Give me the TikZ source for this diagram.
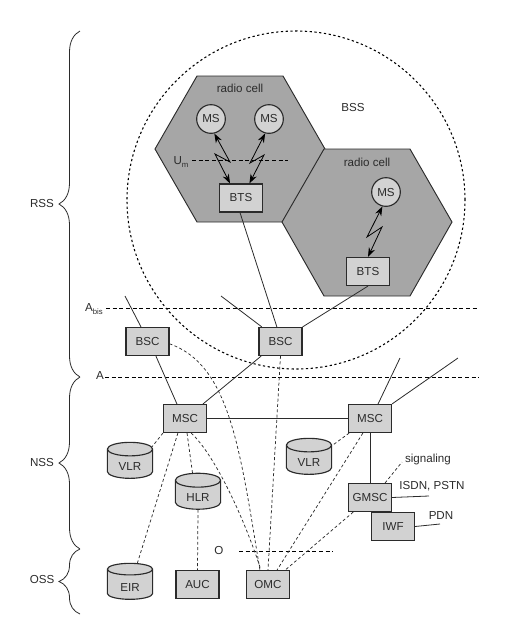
\documentclass[tikz,border=0pt]{standalone}
\usepackage{fontspec}
\setmainfont{Liberation Sans}
\usetikzlibrary{arrows.meta,shapes.geometric,decorations.pathreplacing}
\definecolor{cellgray}{HTML}{A6A6A6}
\definecolor{boxgray}{HTML}{D2D2D2}
\definecolor{inkgray}{HTML}{2B2B2B}
\newcommand{\lowsub}[1]{\raisebox{-.6ex}{\fontsize{5.8}{6}\selectfont #1}}

\begin{document}
\begin{tikzpicture}
[x=.75pt,y=-.75pt,
every node/.style={font=\fontsize{8.7}{10}\selectfont,text=inkgray,inner sep=0pt},
cell/.style={draw=inkgray,fill=cellgray,line width=.7pt,line join=miter},
box/.style={draw=inkgray,fill=boxgray,line width=.85pt,minimum width=32.25pt,minimum height=21pt},
ms/.style={box,circle,minimum width=21.5pt,minimum height=21.5pt},
db/.style={cylinder,shape border rotate=90,aspect=.6,draw=inkgray,line width=.85pt,cylinder uses custom fill,cylinder body fill=boxgray,cylinder end fill=boxgray,minimum width=34pt,minimum height=27pt,text height=10pt},
wire/.style={draw=inkgray,line width=.6pt},
sig/.style={draw=inkgray,line width=.55pt,dash pattern=on 2.2pt off 1.8pt},
iface/.style={draw=black,line width=.6pt,dash pattern=on 3pt off 2pt},
radio/.style={draw=black,line width=.6pt,{Stealth[length=7pt,width=5pt]}-{Stealth[length=7pt,width=5pt]}},
brc/.style={draw=inkgray,line width=.6pt,decorate,decoration={brace,amplitude=15.75pt}}]
\useasboundingbox (0,0) rectangle (519,633);

\draw[cell] (155,149) -- (197,76) -- (283,76) -- (325,149) -- (283,222) -- (197,222) -- cycle;
\draw[cell] (282,222) -- (324,149) -- (410,149) -- (452,222) -- (410,296) -- (324,296) -- cycle;
\draw[black,line width=.8pt,dash pattern=on 1.7pt off 1.9pt] (296,200) circle [radius=126.75pt];

\node (cell1) at (240,88) {radio cell};
\node (cell2) at (367,162) {radio cell};
\node (bss) at (353,108) {BSS};

\node[ms] (ms1) at (211,119) {MS};
\node[ms] (ms2) at (269,119) {MS};
\node[ms] (ms3) at (386,192) {MS};
\node[box] (bts1) at (241,198) {BTS};
\node[box] (bts2) at (368,271.5) {BTS};
\node[box] (bsc1) at (147.5,341.5) {BSC};
\node[box] (bsc2) at (280.5,341.5) {BSC};
\node[box] (msc1) at (185,418.5) {MSC};
\node[box] (msc2) at (370,418.5) {MSC};
\node[box] (gmsc) at (370,497.5) {GMSC};
\node[box] (iwf) at (393,526.5) {IWF};
\node[box] (auc) at (197.5,584.5) {AUC};
\node[box] (omc) at (268,584.5) {OMC};
\node[db] (vlr1) at (130,464) {VLR};
\node[db] (vlr2) at (309,460) {VLR};
\node[db] (hlr) at (198,495) {HLR};
\node[db] (eir) at (130,584.5) {EIR};

\node (um) at (181,162) {U\lowsub{m}};
\node (abis) at (94,309) {A\lowsub{bis}};
\node (a) at (100,376) {A};
\node (o) at (219,550) {O};
\node (rss) at (42,204) {RSS};
\node (nss) at (42,462) {NSS};
\node (oss) at (42,579) {OSS};
\node (signaling) at (428,459) {signaling};
\node (isdn) at (432,486) {ISDN, PSTN};
\node (pdn) at (441,516) {PDN};

\coordinate (um1) at (192,160);
\coordinate (um2) at (288,160);
\coordinate (abis1) at (106,308);
\coordinate (abis2) at (479,308);
\coordinate (a1) at (105,377);
\coordinate (a2) at (479,377);
\coordinate (o1) at (239,551);
\coordinate (o2) at (333,551);
\coordinate (stub1) at (125,296);
\coordinate (stub2) at (221,296);
\coordinate (stub3) at (400,358);
\coordinate (stub4) at (458,358);
\coordinate (sigend) at (402,462);
\coordinate (isdnend) at (429,496);
\coordinate (pdnend) at (440,524);

\draw[iface] (um1) -- (um2);
\draw[iface] (abis1) -- (abis2);
\draw[iface] (a1) -- (a2);
\draw[iface] (o1) -- (o2);

\draw[radio] (ms1.-77) -- (230,162) -- (215,154) -- (bts1.127);
\draw[radio] (ms2.-105) -- (250,163) -- (264,155) -- (bts1.60);
\draw[radio] (ms3.-104) -- (367,237) -- (382,227) -- (bts2.north);

\draw[wire] (bts1.-94) -- (bsc2.104);
\draw[wire] (bts2.south) -- (bsc2.north east);
\draw[wire] (bsc1.114) -- (stub1);
\draw[wire] (bsc2.142) -- (stub2);
\draw[wire] (bsc1.-60) -- (msc1.119);
\draw[wire] (bsc2.-143) -- (msc1.39);
\draw[wire] (msc1.east) -- (msc2.west);
\draw[wire] (msc2.61) -- (stub3);
\draw[wire] (msc2.north east) -- (stub4);
\draw[wire] (msc2.south) -- (gmsc.north);
\draw[wire] (gmsc.east) -- (isdnend);
\draw[wire] (iwf.east) -- (pdnend);

\draw[sig] (msc1.south west) -- (vlr1.38);
\draw[sig] (msc1.-82) -- (hlr.104);
\draw[sig] (msc1.-116) -- (eir.71);
\draw[sig] (hlr.south) -- (auc.north);
\draw[sig] (msc2.-145) -- (vlr2.32);
\draw[sig] (gmsc.44) -- (sigend);
\draw[sig] (bsc2.south) -- (omc.north);
\draw[sig] (msc2.-116) -- (omc.58);
\draw[sig] (gmsc.-139) -- (omc.40);
\draw[sig] (msc1.-67) .. controls (215,455) and (245,520) .. (omc.116);
\draw[sig] (bsc1.-6) .. controls (230,365) and (240,450) .. (omc.119);

\draw[brc] (80,377) -- (80,31);
\draw[brc] (80,549) -- (80,377);
\draw[brc] (80,614) -- (80,549);
\end{tikzpicture}
\end{document}
